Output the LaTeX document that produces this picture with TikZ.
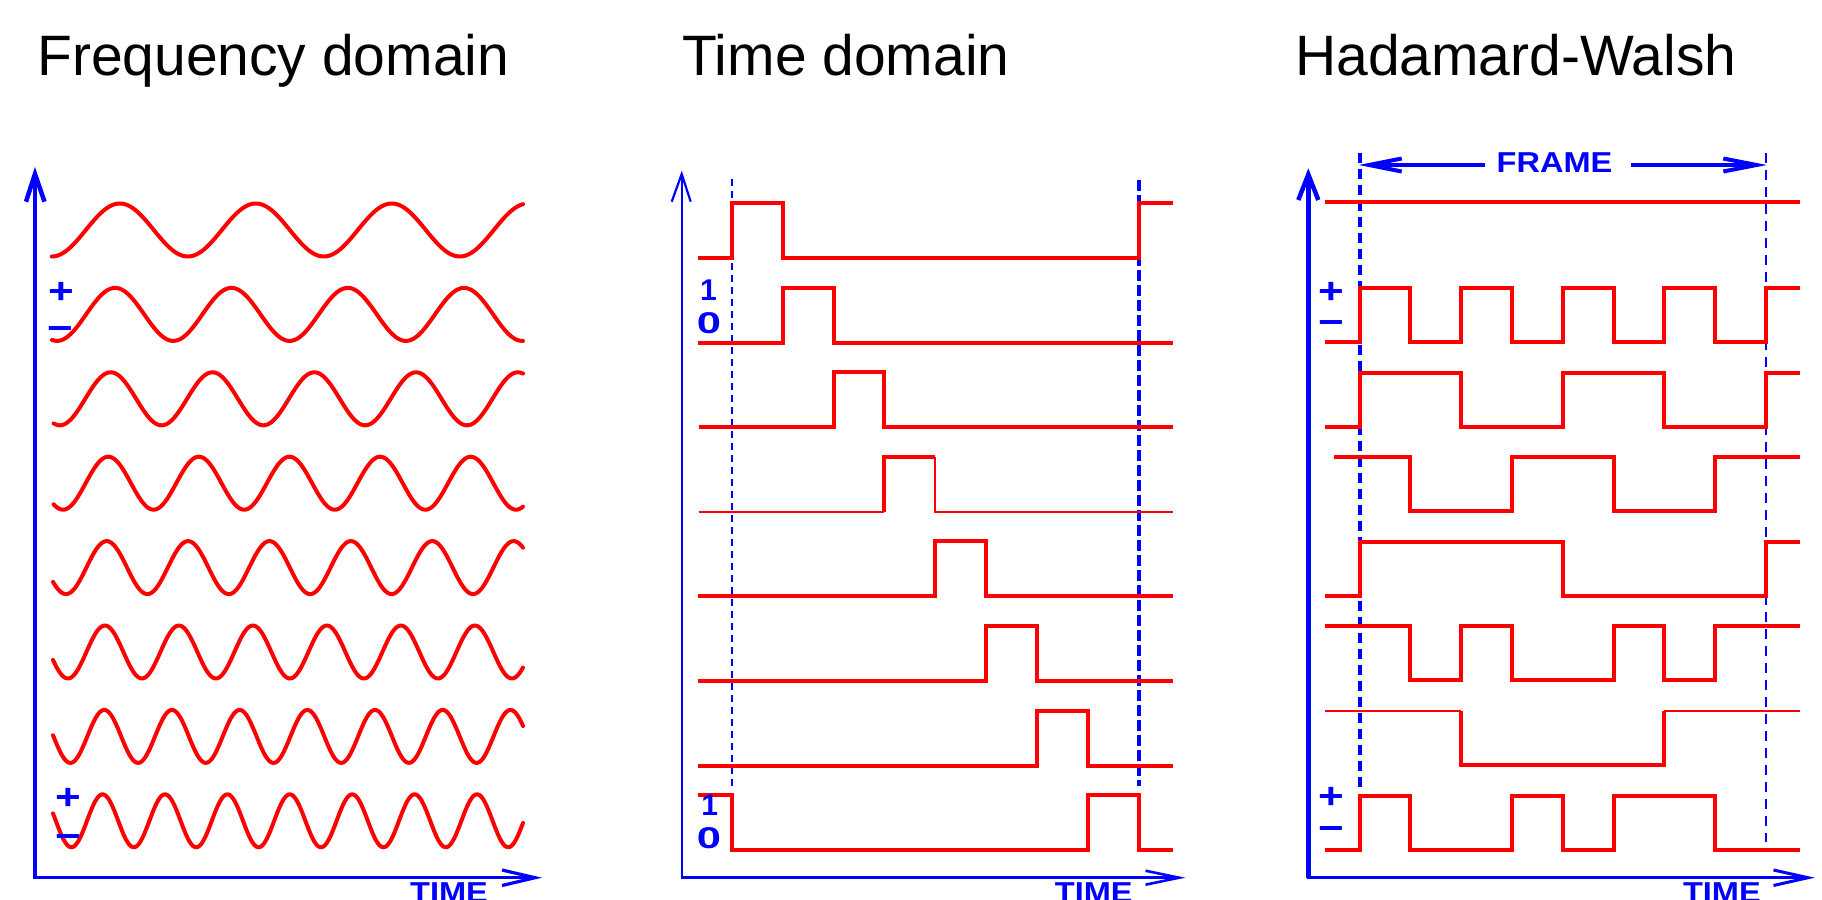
\documentclass[tikz,border=0pt]{standalone}
\usepackage{fontspec}
\setmainfont{Liberation Sans}
\usepackage{graphicx}
\begin{document}
\begin{tikzpicture}[x=1pt,y=-1pt,
  sig/.style={draw=red, line width=4pt, line join=miter, line cap=butt},
  thinsig/.style={draw=red, line width=2pt, line cap=butt},
  wave/.style={draw=red, line width=4pt, line join=round, line cap=round},
  ax/.style={draw=blue, line width=#1, line join=miter, line cap=butt},
  framedash/.style={draw=blue, line width=#1, line cap=butt},
  title/.style={anchor=base west, inner sep=0pt, font=\fontsize{57}{68}\selectfont},
  small/.style={inner sep=0pt, text=blue, xscale=1.13, font=\fontsize{28.8}{30}\selectfont\bfseries},
  pm/.style={inner sep=0pt, text=blue, yscale=0.82, font=\fontsize{44}{44}\selectfont\bfseries},
  digit/.style={inner sep=0pt, text=blue, font=\fontsize{30}{31}\selectfont\bfseries}
]
\useasboundingbox (0,0) rectangle (1822,899);
\clip (0,0) rectangle (1822,899);

% ---------- titles ----------
\node[title] (t1) at (37,75) {Frequency domain};
\node[title] (t2) at (682,75) {Time domain};
\node[title] (t3) at (1295,75) {Hadamard-Walsh};

% ---------- panel 1: frequency domain ----------
\draw[ax=4.5pt] (35,176) -- (35,877.7);
\draw[ax=4.5pt] (26,201.7) -- (35,174) -- (44.5,201.7);
\draw[ax=3.2pt] (33,877.7) -- (535,877.7);
\draw[ax=3.2pt] (502,870) -- (535,877.7) -- (502,885.5);
\node[small] (time1) at (449,892.5) {TIME};

\foreach \cy/\tx/\per/\st in {230/51.8/136/51.8, 314.4/57/116.3/52, 398.8/59.8/101.8/53.6, 483.2/63/90.6/53.6, 567.6/66/81.4/53, 652/67.9/74/53, 736.4/70.4/67.7/53, 820.8/71.4/62.4/53}
  \draw[wave] plot[domain=\st:523, samples=260] (\x, {\cy + 26.5*cos(360/\per*(\x-\tx))});

\node[pm] (p1) at (61,292.5) {+};
\node[pm] (m1) at (60.5,334) {−};
\node[pm] (p2) at (68,798.5) {+};
\node[pm] (m2) at (68,841.5) {−};

% ---------- panel 2: time domain ----------
\draw[framedash=2.2pt, dash pattern=on 7pt off 5pt] (731.7,179) -- (731.7,786);
\draw[framedash=3.4pt, dash pattern=on 11pt off 4pt] (1138.9,180) -- (1138.9,786);

\draw[ax=2.2pt] (681.7,176) -- (681.7,877.7);
\draw[ax=2.2pt] (671.7,201.7) -- (681.7,174) -- (690.7,201.7);
\draw[ax=2.6pt] (680.6,877.7) -- (1179,877.7);
\draw[ax=2.6pt] (1145.5,870.7) -- (1179,877.7) -- (1145.5,884.7);
\node[small] (time2) at (1093.8,892.5) {TIME};

% rows (H = high, L = low)
\draw[sig] (697.7,258) -- (731.7,258) |- (782.6,203) |- (1138.9,258) |- (1173,203);
\draw[sig] (697.7,342.6) -- (782.6,342.6) |- (833.5,287.6) |- (1173,342.6);
\draw[sig] (698.5,427.2) -- (833.5,427.2) |- (884.4,372.2) |- (1173,427.2);
\draw[thinsig] (698.5,511.8) -- (884.4,511.8);
\draw[sig] (884.4,511.8) |- (935.3,456.8);
\draw[thinsig] (935.3,456.8) |- (1173,511.8);
\draw[sig] (697.7,596.4) -- (935.3,596.4) |- (986.2,541.4) |- (1173,596.4);
\draw[sig] (697.7,681) -- (986.2,681) |- (1037.1,626) |- (1173,681);
\draw[sig] (697.7,765.6) -- (1037.1,765.6) |- (1088,710.6) |- (1173,765.6);
\draw[sig] (697.7,795.2) -- (731.7,795.2) |- (1088,850.2) |- (1138.9,795.2) |- (1173,850.2);

\node[digit] (one1) at (708.5,290) {1};
\node[digit, xscale=1.45] (zero1) at (709,323.4) {0};
\node[digit] (one2) at (709.6,805) {1};
\node[digit, xscale=1.45] (zero2) at (709,838.4) {0};

% ---------- panel 3: Hadamard-Walsh ----------
\draw[framedash=4pt, dash pattern=on 10pt off 6pt] (1359.6,153) -- (1359.6,787);
\draw[framedash=2pt, dash pattern=on 10pt off 7pt] (1766,153) -- (1766,842);

\draw[ax=4.5pt] (1308.3,176) -- (1308.3,877.7);
\draw[ax=4.5pt] (1298.3,200) -- (1308.3,174.5) -- (1318.3,200);
\draw[ax=3pt] (1306.5,877.7) -- (1808,877.7);
\draw[ax=3pt] (1773.5,870) -- (1808,877.7) -- (1773.5,885.5);
\node[small] (time3) at (1721.9,893) {TIME};

% frame arrows
\node[small] (frame) at (1554.5,163) {FRAME};
\draw[ax=4pt] (1485,165) -- (1369,165);
\draw[ax=4pt] (1401.7,158.5) -- (1369,165) -- (1401.7,171.5);
\draw[ax=4pt] (1631,165) -- (1756.5,165);
\draw[ax=4pt] (1723.3,158.5) -- (1756.5,165) -- (1723.3,171.5);

% Walsh rows
\draw[sig] (1325,202) -- (1800,202);
\draw[sig] (1325,342) -- (1359.6,342) |- (1410.4,288) |- (1461.2,342) |- (1512,288) |- (1562.8,342) |- (1613.6,288) |- (1664.4,342) |- (1715.2,288) |- (1766,342) |- (1800,288);
\draw[sig] (1325,426.6) -- (1359.6,426.6) |- (1461.2,372.6) |- (1562.8,426.6) |- (1664.4,372.6) |- (1766,426.6) |- (1800,372.6);
\draw[sig] (1334,457.2) -- (1410.4,457.2) |- (1512,511.2) |- (1613.6,457.2) |- (1715.2,511.2) |- (1800,457.2);
\draw[sig] (1325,595.8) -- (1359.6,595.8) |- (1562.8,541.8) |- (1766,595.8) |- (1800,541.8);
\draw[sig] (1325,626.4) -- (1410.4,626.4) |- (1461.2,680.4) |- (1512,626.4) |- (1613.6,680.4) |- (1664.4,626.4) |- (1715.2,680.4) |- (1800,626.4);
\draw[thinsig] (1325,711) -- (1461.2,711);
\draw[sig] (1461.2,711) |- (1664.4,765) -- (1664.4,711);
\draw[thinsig] (1664.4,711) -- (1800,711);
\draw[sig] (1325,849.6) -- (1359.6,849.6) |- (1410.4,795.6) |- (1512,849.6) |- (1562.8,795.6) |- (1613.6,849.6) |- (1715.2,795.6) |- (1800,849.6);

\node[pm] (p3) at (1331.8,292.5) {+};
\node[pm] (m3) at (1331.8,327.5) {−};
\node[pm] (p4) at (1331.8,797.5) {+};
\node[pm] (m4) at (1331.8,833.5) {−};
\end{tikzpicture}
\end{document}
